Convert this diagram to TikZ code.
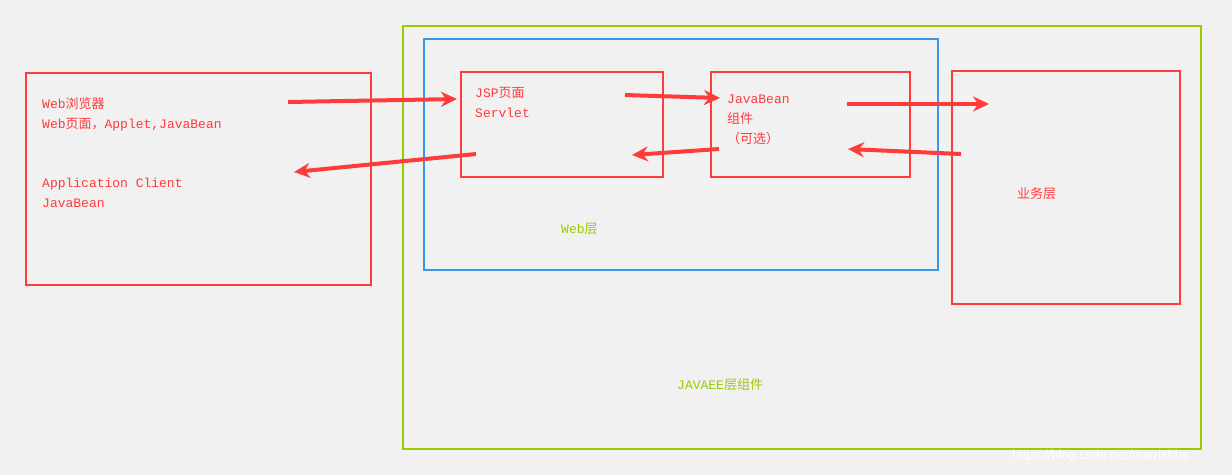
\documentclass[tikz,border=0pt]{standalone}
\usepackage{fontspec}
\setmainfont{Liberation Mono}
\newfontfamily\cjk{Noto Sans CJK SC}
\newfontfamily\wmf{Liberation Sans}
\usetikzlibrary{arrows.meta}
\definecolor{rd}{HTML}{FF3B3B}
\definecolor{gr}{HTML}{99CC00}
\definecolor{bl}{HTML}{3A96E8}
\definecolor{bg}{HTML}{F1F1F1}
\tikzset{
  box/.style={draw=#1,line width=2.2pt},
  arr/.style={draw=rd,line width=4pt,-{Stealth[length=16pt,width=15pt]}},
  lbl/.style={anchor=north west,inner sep=0pt,align=left,font=\fontsize{13}{20}\selectfont,text=rd}
}
\begin{document}
\begin{tikzpicture}[x=1pt,y=-1pt]
\fill[bg] (0,0) rectangle (1232,475);
\useasboundingbox (0,0) rectangle (1232,475);
\draw[box=rd] (26,73) rectangle (371,285);
\draw[box=gr] (403,26) rectangle (1201,449);
\draw[box=bl] (424,39) rectangle (938,270);
\draw[box=rd] (461,72) rectangle (663,177);
\draw[box=rd] (711,72) rectangle (910,177);
\draw[box=rd] (952,71) rectangle (1180,304);
\node[lbl] (t1) at (42,97) {Web{\cjk 浏览器}\\Web{\cjk 页面，}Applet,JavaBean};
\node[lbl] (t2) at (42,178) {Application Client\\JavaBean};
\node[lbl] (t3) at (475,87) {JSP{\cjk 页面}\\Servlet};
\node[lbl] (t4) at (727,95) {JavaBean\\{\cjk 组件}\\{\cjk （可选）}};
\node[lbl] (t5) at (1017,187) {{\cjk 业务层}};
\node[lbl,text=gr] (t6) at (561,223) {Web{\cjk 层}};
\node[lbl,text=gr] (t7) at (677,378) {JAVAEE{\cjk 层组件}};
\node[lbl,text=white,font=\wmf\fontsize{13}{14}\selectfont] (wm) at (1012,450) {https://blog.csdn.net/matrixbbs};
\coordinate (a1) at (288,102); \coordinate (b1) at (457,99);
\coordinate (a2) at (476,154); \coordinate (b2) at (294,172);
\coordinate (a3) at (625,95); \coordinate (b3) at (720,98);
\coordinate (a4) at (719,149); \coordinate (b4) at (632,155);
\coordinate (a5) at (847,104); \coordinate (b5) at (989,104);
\coordinate (a6) at (961,154); \coordinate (b6) at (848,149);
\foreach \i in {1,...,6} \draw[arr] (a\i) -- (b\i);
\end{tikzpicture}
\end{document}
